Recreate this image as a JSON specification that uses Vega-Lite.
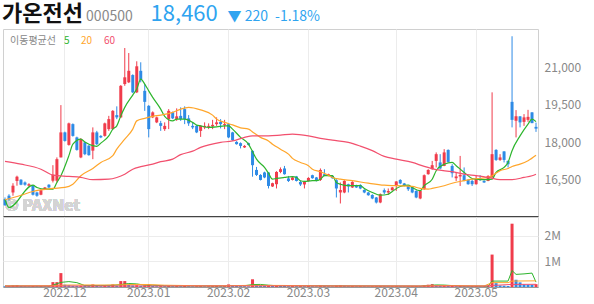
{
"$schema": "https://vega.github.io/schema/vega-lite/v6.json",
"padding": {"left": 2, "top": 2, "right": 0, "bottom": 0},
"background": "white",
"config": {"font": "Noto Sans CJK KR", "view": {"stroke": "#d0d0d0"}},
"title": {"text": "가온전선", "subtitle": "\u200b\u2003\u2003\u2003\u2003\u2003\u2003000500", "anchor": "start", "fontSize": 22, "fontWeight": "bold", "color": "#111111", "subtitleFontSize": 14, "subtitleColor": "#8a8a8a", "subtitlePadding": -16, "offset": -23},
"spacing": -3,
"resolve": {"scale": {"color": "independent"}},
"datasets": {
"candles": [
{"d":"2022-11-10","o":15640,"h":15710,"l":15380,"c":15400,"v":30000},
{"d":"2022-11-11","o":15780,"h":15840,"l":15580,"c":15640,"v":35000},
{"d":"2022-11-14","o":15910,"h":16280,"l":15780,"c":16180,"v":60000},
{"d":"2022-11-15","o":16370,"h":16580,"l":16180,"c":16540,"v":70000},
{"d":"2022-11-16","o":16420,"h":16440,"l":16200,"c":16220,"v":40000},
{"d":"2022-11-17","o":16310,"h":16350,"l":16180,"c":16220,"v":30000},
{"d":"2022-11-18","o":16180,"h":16280,"l":16150,"c":16240,"v":25000},
{"d":"2022-11-21","o":16180,"h":16200,"l":15790,"c":15820,"v":40000},
{"d":"2022-11-22","o":15910,"h":15940,"l":15740,"c":15780,"v":30000},
{"d":"2022-11-23","o":15820,"h":16030,"l":15800,"c":16000,"v":35000},
{"d":"2022-11-24","o":16040,"h":16130,"l":16020,"c":16110,"v":25000},
{"d":"2022-11-25","o":16220,"h":16240,"l":16090,"c":16110,"v":30000},
{"d":"2022-11-28","o":16380,"h":17000,"l":16310,"c":16620,"v":190000},
{"d":"2022-11-29","o":16380,"h":17310,"l":16310,"c":17240,"v":190000},
{"d":"2022-11-30","o":17310,"h":19400,"l":17310,"c":18310,"v":540000},
{"d":"2022-12-01","o":18310,"h":18340,"l":17940,"c":17970,"v":90000},
{"d":"2022-12-02","o":17810,"h":18700,"l":17780,"c":18670,"v":70000},
{"d":"2022-12-05","o":18640,"h":18670,"l":18140,"c":18170,"v":50000},
{"d":"2022-12-06","o":18110,"h":18140,"l":17580,"c":17610,"v":45000},
{"d":"2022-12-07","o":17310,"h":18080,"l":17280,"c":18040,"v":50000},
{"d":"2022-12-08","o":17910,"h":17940,"l":17400,"c":17440,"v":40000},
{"d":"2022-12-09","o":17780,"h":17800,"l":17380,"c":17400,"v":35000},
{"d":"2022-12-12","o":17580,"h":18510,"l":17240,"c":18310,"v":100000},
{"d":"2022-12-13","o":18310,"h":18370,"l":17800,"c":17840,"v":50000},
{"d":"2022-12-14","o":18170,"h":18200,"l":18080,"c":18110,"v":30000},
{"d":"2022-12-15","o":18170,"h":18700,"l":18140,"c":18670,"v":60000},
{"d":"2022-12-16","o":18440,"h":18970,"l":18370,"c":18840,"v":45000},
{"d":"2022-12-19","o":18440,"h":19200,"l":18420,"c":19170,"v":100000},
{"d":"2022-12-20","o":19000,"h":19350,"l":18840,"c":18910,"v":50000},
{"d":"2022-12-21","o":18910,"h":20200,"l":18880,"c":20170,"v":230000},
{"d":"2022-12-22","o":20240,"h":21680,"l":20170,"c":20510,"v":230000},
{"d":"2022-12-23","o":20310,"h":21480,"l":20280,"c":20770,"v":90000},
{"d":"2022-12-26","o":20600,"h":20630,"l":19880,"c":19910,"v":60000},
{"d":"2022-12-27","o":19910,"h":21150,"l":19880,"c":20950,"v":70000},
{"d":"2022-12-28","o":20770,"h":21110,"l":20310,"c":20410,"v":50000},
{"d":"2022-12-29","o":19970,"h":20240,"l":19170,"c":19530,"v":60000},
{"d":"2023-01-02","o":19370,"h":19400,"l":18110,"c":18440,"v":110000},
{"d":"2023-01-03","o":18910,"h":19150,"l":18880,"c":19110,"v":40000},
{"d":"2023-01-04","o":18710,"h":18940,"l":18680,"c":18910,"v":30000},
{"d":"2023-01-05","o":18680,"h":18770,"l":18370,"c":18570,"v":35000},
{"d":"2023-01-06","o":18440,"h":18710,"l":18370,"c":18570,"v":30000},
{"d":"2023-01-09","o":18840,"h":19240,"l":18440,"c":19170,"v":40000},
{"d":"2023-01-10","o":19110,"h":19140,"l":18840,"c":18870,"v":30000},
{"d":"2023-01-11","o":18840,"h":19270,"l":18770,"c":18950,"v":35000},
{"d":"2023-01-12","o":18970,"h":19310,"l":18770,"c":18840,"v":30000},
{"d":"2023-01-13","o":19240,"h":19350,"l":18640,"c":18840,"v":40000},
{"d":"2023-01-16","o":18870,"h":19000,"l":18570,"c":18670,"v":30000},
{"d":"2023-01-17","o":18570,"h":18710,"l":18440,"c":18510,"v":25000},
{"d":"2023-01-18","o":18570,"h":18600,"l":18280,"c":18310,"v":30000},
{"d":"2023-01-19","o":18370,"h":18600,"l":18130,"c":18570,"v":35000},
{"d":"2023-01-20","o":18510,"h":18710,"l":18440,"c":18570,"v":25000},
{"d":"2023-01-25","o":18530,"h":18670,"l":18440,"c":18570,"v":30000},
{"d":"2023-01-26","o":18550,"h":18810,"l":18440,"c":18610,"v":35000},
{"d":"2023-01-27","o":18640,"h":18910,"l":18570,"c":18710,"v":40000},
{"d":"2023-01-30","o":18730,"h":18840,"l":18470,"c":18640,"v":30000},
{"d":"2023-01-31","o":18600,"h":18810,"l":18440,"c":18640,"v":35000},
{"d":"2023-02-01","o":18640,"h":18670,"l":18080,"c":18110,"v":100000},
{"d":"2023-02-02","o":18310,"h":18330,"l":17970,"c":18000,"v":60000},
{"d":"2023-02-03","o":17930,"h":17960,"l":17820,"c":17840,"v":40000},
{"d":"2023-02-06","o":17880,"h":17910,"l":17670,"c":17770,"v":35000},
{"d":"2023-02-07","o":17710,"h":17800,"l":17690,"c":17770,"v":30000},
{"d":"2023-02-08","o":17880,"h":17900,"l":17790,"c":17810,"v":25000},
{"d":"2023-02-09","o":17570,"h":17600,"l":16540,"c":17000,"v":300000},
{"d":"2023-02-10","o":16810,"h":16930,"l":16570,"c":16610,"v":80000},
{"d":"2023-02-13","o":16610,"h":16640,"l":16390,"c":16410,"v":60000},
{"d":"2023-02-14","o":16710,"h":16740,"l":16480,"c":16510,"v":50000},
{"d":"2023-02-15","o":16710,"h":16720,"l":16070,"c":16170,"v":70000},
{"d":"2023-02-16","o":16150,"h":16300,"l":16130,"c":16280,"v":40000},
{"d":"2023-02-17","o":16240,"h":16760,"l":16070,"c":16730,"v":60000},
{"d":"2023-02-20","o":16730,"h":16910,"l":16680,"c":16840,"v":50000},
{"d":"2023-02-21","o":16870,"h":16970,"l":16620,"c":16640,"v":40000},
{"d":"2023-02-22","o":16470,"h":16570,"l":16330,"c":16370,"v":30000},
{"d":"2023-02-23","o":16410,"h":16530,"l":16390,"c":16510,"v":35000},
{"d":"2023-02-24","o":16550,"h":16570,"l":16350,"c":16370,"v":30000},
{"d":"2023-02-27","o":16330,"h":16370,"l":16170,"c":16230,"v":35000},
{"d":"2023-02-28","o":16230,"h":16370,"l":16070,"c":16330,"v":30000},
{"d":"2023-03-02","o":16370,"h":16520,"l":16350,"c":16490,"v":40000},
{"d":"2023-03-03","o":16600,"h":16620,"l":16460,"c":16480,"v":30000},
{"d":"2023-03-06","o":16510,"h":16530,"l":16350,"c":16370,"v":25000},
{"d":"2023-03-07","o":16410,"h":16870,"l":16370,"c":16810,"v":50000},
{"d":"2023-03-08","o":16640,"h":16840,"l":16560,"c":16570,"v":40000},
{"d":"2023-03-09","o":16570,"h":16660,"l":16560,"c":16640,"v":30000},
{"d":"2023-03-10","o":16570,"h":16600,"l":16460,"c":16480,"v":25000},
{"d":"2023-03-13","o":16400,"h":16440,"l":15710,"c":16070,"v":50000},
{"d":"2023-03-14","o":15910,"h":16310,"l":15470,"c":16010,"v":60000},
{"d":"2023-03-15","o":15910,"h":16400,"l":15880,"c":16370,"v":45000},
{"d":"2023-03-16","o":16240,"h":16260,"l":15910,"c":16150,"v":35000},
{"d":"2023-03-17","o":16110,"h":16360,"l":16090,"c":16330,"v":40000},
{"d":"2023-03-20","o":16200,"h":16220,"l":16090,"c":16110,"v":30000},
{"d":"2023-03-21","o":16210,"h":16240,"l":16040,"c":16070,"v":35000},
{"d":"2023-03-22","o":16010,"h":16040,"l":15880,"c":15910,"v":30000},
{"d":"2023-03-23","o":15910,"h":15930,"l":15780,"c":15800,"v":25000},
{"d":"2023-03-24","o":15810,"h":15840,"l":15640,"c":15670,"v":30000},
{"d":"2023-03-27","o":15710,"h":15730,"l":15470,"c":15510,"v":35000},
{"d":"2023-03-28","o":15510,"h":15870,"l":15480,"c":15840,"v":40000},
{"d":"2023-03-29","o":16000,"h":16070,"l":15840,"c":15910,"v":30000},
{"d":"2023-03-30","o":15910,"h":16070,"l":15810,"c":15970,"v":25000},
{"d":"2023-03-31","o":16000,"h":16130,"l":15980,"c":16110,"v":30000},
{"d":"2023-04-03","o":16170,"h":16360,"l":15970,"c":16350,"v":40000},
{"d":"2023-04-04","o":16410,"h":16440,"l":16240,"c":16270,"v":30000},
{"d":"2023-04-05","o":16270,"h":16290,"l":16150,"c":16170,"v":25000},
{"d":"2023-04-06","o":16170,"h":16190,"l":15970,"c":16040,"v":30000},
{"d":"2023-04-07","o":16130,"h":16160,"l":15880,"c":15910,"v":35000},
{"d":"2023-04-10","o":15970,"h":16000,"l":15680,"c":15710,"v":40000},
{"d":"2023-04-11","o":15670,"h":16000,"l":15640,"c":15970,"v":30000},
{"d":"2023-04-12","o":16040,"h":16630,"l":16020,"c":16600,"v":60000},
{"d":"2023-04-13","o":16640,"h":16840,"l":16620,"c":16810,"v":90000},
{"d":"2023-04-14","o":16840,"h":17170,"l":16820,"c":17000,"v":110000},
{"d":"2023-04-17","o":17170,"h":17510,"l":16910,"c":17440,"v":70000},
{"d":"2023-04-18","o":17110,"h":17440,"l":16840,"c":16870,"v":50000},
{"d":"2023-04-19","o":16970,"h":17640,"l":16960,"c":17510,"v":60000},
{"d":"2023-04-20","o":17610,"h":17630,"l":17110,"c":17130,"v":45000},
{"d":"2023-04-21","o":16970,"h":17040,"l":16510,"c":16680,"v":50000},
{"d":"2023-04-24","o":16480,"h":16730,"l":16370,"c":16550,"v":30000},
{"d":"2023-04-25","o":16550,"h":17370,"l":16170,"c":16610,"v":35000},
{"d":"2023-04-26","o":16600,"h":16910,"l":16360,"c":16370,"v":30000},
{"d":"2023-04-27","o":16410,"h":16440,"l":16220,"c":16240,"v":25000},
{"d":"2023-04-28","o":16370,"h":16440,"l":16170,"c":16240,"v":30000},
{"d":"2023-05-02","o":16240,"h":16600,"l":16220,"c":16440,"v":35000},
{"d":"2023-05-03","o":16470,"h":16600,"l":16370,"c":16440,"v":25000},
{"d":"2023-05-04","o":16370,"h":16400,"l":16290,"c":16310,"v":30000},
{"d":"2023-05-08","o":16370,"h":16600,"l":16360,"c":16570,"v":40000},
{"d":"2023-05-09","o":16510,"h":19910,"l":16510,"c":17440,"v":1260000},
{"d":"2023-05-10","o":17610,"h":17640,"l":17170,"c":17210,"v":150000},
{"d":"2023-05-11","o":17210,"h":17440,"l":17170,"c":17310,"v":60000},
{"d":"2023-05-12","o":17550,"h":17560,"l":17110,"c":17210,"v":50000},
{"d":"2023-05-15","o":17170,"h":17190,"l":16910,"c":17040,"v":40000},
{"d":"2023-05-16","o":19530,"h":22150,"l":18510,"c":18810,"v":2460000},
{"d":"2023-05-17","o":18770,"h":19200,"l":18110,"c":18950,"v":280000},
{"d":"2023-05-18","o":18950,"h":18960,"l":18510,"c":18710,"v":180000},
{"d":"2023-05-19","o":18730,"h":19040,"l":18570,"c":18910,"v":100000},
{"d":"2023-05-22","o":18810,"h":19210,"l":18730,"c":18930,"v":90000},
{"d":"2023-05-23","o":19110,"h":19120,"l":18680,"c":18680,"v":85000},
{"d":"2023-05-24","o":18530,"h":18700,"l":18330,"c":18460,"v":110000}
],
"ma": [
{"d":"2022-11-10","ma":"5","p":15640},{"d":"2022-11-11","ma":"5","p":15310},{"d":"2022-11-21","ma":"5","p":16200},{"d":"2022-11-22","ma":"5","p":16110},{"d":"2022-11-24","ma":"5","p":16040},{"d":"2022-11-28","ma":"5","p":16040},{"d":"2022-11-29","ma":"5","p":16310},{"d":"2022-11-30","ma":"5","p":16580},{"d":"2022-12-02","ma":"5","p":17380},{"d":"2022-12-05","ma":"5","p":17840},{"d":"2022-12-07","ma":"5","p":18040},{"d":"2022-12-08","ma":"5","p":17930},{"d":"2022-12-12","ma":"5","p":17780},{"d":"2022-12-13","ma":"5","p":17750},{"d":"2022-12-14","ma":"5","p":17880},{"d":"2022-12-16","ma":"5","p":18170},{"d":"2022-12-19","ma":"5","p":18440},{"d":"2022-12-20","ma":"5","p":18570},{"d":"2022-12-21","ma":"5","p":18970},{"d":"2022-12-22","ma":"5","p":19310},{"d":"2022-12-26","ma":"5","p":19800},{"d":"2022-12-27","ma":"5","p":20040},{"d":"2022-12-28","ma":"5","p":20440},{"d":"2022-12-29","ma":"5","p":20240},{"d":"2023-01-02","ma":"5","p":19970},{"d":"2023-01-03","ma":"5","p":19710},{"d":"2023-01-05","ma":"5","p":19240},{"d":"2023-01-06","ma":"5","p":18950},{"d":"2023-01-10","ma":"5","p":18770},{"d":"2023-01-11","ma":"5","p":18840},{"d":"2023-01-13","ma":"5","p":18840},{"d":"2023-01-17","ma":"5","p":18710},{"d":"2023-01-18","ma":"5","p":18600},{"d":"2023-01-19","ma":"5","p":18570},{"d":"2023-01-25","ma":"5","p":18510},{"d":"2023-01-27","ma":"5","p":18530},{"d":"2023-01-31","ma":"5","p":18570},{"d":"2023-02-01","ma":"5","p":18570},{"d":"2023-02-02","ma":"5","p":18440},{"d":"2023-02-06","ma":"5","p":18110},{"d":"2023-02-08","ma":"5","p":17840},{"d":"2023-02-09","ma":"5","p":17540},{"d":"2023-02-10","ma":"5","p":17240},{"d":"2023-02-14","ma":"5","p":16910},{"d":"2023-02-15","ma":"5","p":16680},{"d":"2023-02-16","ma":"5","p":16440},{"d":"2023-02-17","ma":"5","p":16470},{"d":"2023-02-21","ma":"5","p":16510},{"d":"2023-02-23","ma":"5","p":16540},{"d":"2023-02-24","ma":"5","p":16510},{"d":"2023-02-27","ma":"5","p":16380},{"d":"2023-02-28","ma":"5","p":16350},{"d":"2023-03-03","ma":"5","p":16380},{"d":"2023-03-06","ma":"5","p":16380},{"d":"2023-03-07","ma":"5","p":16440},{"d":"2023-03-08","ma":"5","p":16580},{"d":"2023-03-10","ma":"5","p":16580},{"d":"2023-03-13","ma":"5","p":16310},{"d":"2023-03-14","ma":"5","p":16240},{"d":"2023-03-16","ma":"5","p":16180},{"d":"2023-03-21","ma":"5","p":16180},{"d":"2023-03-22","ma":"5","p":16070},{"d":"2023-03-24","ma":"5","p":15910},{"d":"2023-03-28","ma":"5","p":15800},{"d":"2023-03-30","ma":"5","p":15840},{"d":"2023-03-31","ma":"5","p":15950},{"d":"2023-04-04","ma":"5","p":16150},{"d":"2023-04-06","ma":"5","p":16200},{"d":"2023-04-07","ma":"5","p":16110},{"d":"2023-04-11","ma":"5","p":15980},{"d":"2023-04-12","ma":"5","p":16180},{"d":"2023-04-14","ma":"5","p":16440},{"d":"2023-04-17","ma":"5","p":16780},{"d":"2023-04-19","ma":"5","p":17040},{"d":"2023-04-21","ma":"5","p":17110},{"d":"2023-04-24","ma":"5","p":16980},{"d":"2023-04-26","ma":"5","p":16710},{"d":"2023-04-28","ma":"5","p":16470},{"d":"2023-05-02","ma":"5","p":16440},{"d":"2023-05-04","ma":"5","p":16420},{"d":"2023-05-09","ma":"5","p":16440},{"d":"2023-05-10","ma":"5","p":16710},{"d":"2023-05-12","ma":"5","p":16910},{"d":"2023-05-15","ma":"5","p":17110},{"d":"2023-05-16","ma":"5","p":17580},{"d":"2023-05-18","ma":"5","p":18170},{"d":"2023-05-22","ma":"5","p":18640},{"d":"2023-05-23","ma":"5","p":18840},{"d":"2023-05-24","ma":"5","p":18740},
{"d":"2022-11-10","ma":"20","p":15620},{"d":"2022-11-16","ma":"20","p":15800},{"d":"2022-11-21","ma":"20","p":15950},{"d":"2022-11-28","ma":"20","p":16070},{"d":"2022-12-01","ma":"20","p":16110},{"d":"2022-12-05","ma":"20","p":16240},{"d":"2022-12-07","ma":"20","p":16580},{"d":"2022-12-12","ma":"20","p":16870},{"d":"2022-12-14","ma":"20","p":17110},{"d":"2022-12-19","ma":"20","p":17380},{"d":"2022-12-20","ma":"20","p":17640},{"d":"2022-12-22","ma":"20","p":18040},{"d":"2022-12-26","ma":"20","p":18440},{"d":"2022-12-27","ma":"20","p":18770},{"d":"2022-12-29","ma":"20","p":18870},{"d":"2023-01-03","ma":"20","p":18950},{"d":"2023-01-05","ma":"20","p":19000},{"d":"2023-01-10","ma":"20","p":19110},{"d":"2023-01-12","ma":"20","p":19240},{"d":"2023-01-16","ma":"20","p":19310},{"d":"2023-01-19","ma":"20","p":19210},{"d":"2023-01-26","ma":"20","p":19000},{"d":"2023-01-27","ma":"20","p":18840},{"d":"2023-01-31","ma":"20","p":18710},{"d":"2023-02-02","ma":"20","p":18610},{"d":"2023-02-06","ma":"20","p":18490},{"d":"2023-02-08","ma":"20","p":18440},{"d":"2023-02-09","ma":"20","p":18330},{"d":"2023-02-13","ma":"20","p":18110},{"d":"2023-02-15","ma":"20","p":17970},{"d":"2023-02-16","ma":"20","p":17840},{"d":"2023-02-20","ma":"20","p":17640},{"d":"2023-02-22","ma":"20","p":17440},{"d":"2023-02-23","ma":"20","p":17270},{"d":"2023-02-27","ma":"20","p":17110},{"d":"2023-03-02","ma":"20","p":16980},{"d":"2023-03-03","ma":"20","p":16840},{"d":"2023-03-07","ma":"20","p":16740},{"d":"2023-03-09","ma":"20","p":16600},{"d":"2023-03-10","ma":"20","p":16510},{"d":"2023-03-14","ma":"20","p":16440},{"d":"2023-03-17","ma":"20","p":16380},{"d":"2023-03-23","ma":"20","p":16280},{"d":"2023-03-29","ma":"20","p":16200},{"d":"2023-04-03","ma":"20","p":16180},{"d":"2023-04-07","ma":"20","p":16150},{"d":"2023-04-11","ma":"20","p":16070},{"d":"2023-04-13","ma":"20","p":16040},{"d":"2023-04-14","ma":"20","p":16070},{"d":"2023-04-19","ma":"20","p":16180},{"d":"2023-04-21","ma":"20","p":16280},{"d":"2023-04-26","ma":"20","p":16380},{"d":"2023-04-28","ma":"20","p":16440},{"d":"2023-05-08","ma":"20","p":16510},{"d":"2023-05-09","ma":"20","p":16580},{"d":"2023-05-11","ma":"20","p":16780},{"d":"2023-05-15","ma":"20","p":16870},{"d":"2023-05-16","ma":"20","p":16950},{"d":"2023-05-18","ma":"20","p":17040},{"d":"2023-05-22","ma":"20","p":17180},{"d":"2023-05-24","ma":"20","p":17400},
{"d":"2022-11-10","ma":"60","p":17150},{"d":"2022-11-16","ma":"60","p":17040},{"d":"2022-11-23","ma":"60","p":16840},{"d":"2022-11-28","ma":"60","p":16600},{"d":"2022-12-02","ma":"60","p":16550},{"d":"2022-12-07","ma":"60","p":16510},{"d":"2022-12-12","ma":"60","p":16420},{"d":"2022-12-16","ma":"60","p":16440},{"d":"2022-12-20","ma":"60","p":16510},{"d":"2022-12-22","ma":"60","p":16640},{"d":"2022-12-26","ma":"60","p":16840},{"d":"2022-12-28","ma":"60","p":16940},{"d":"2023-01-03","ma":"60","p":17040},{"d":"2023-01-05","ma":"60","p":17140},{"d":"2023-01-10","ma":"60","p":17240},{"d":"2023-01-12","ma":"60","p":17420},{"d":"2023-01-17","ma":"60","p":17560},{"d":"2023-01-19","ma":"60","p":17710},{"d":"2023-01-30","ma":"60","p":17910},{"d":"2023-02-02","ma":"60","p":17970},{"d":"2023-02-07","ma":"60","p":18110},{"d":"2023-02-09","ma":"60","p":18170},{"d":"2023-02-15","ma":"60","p":18170},{"d":"2023-02-20","ma":"60","p":18200},{"d":"2023-02-23","ma":"60","p":18240},{"d":"2023-03-02","ma":"60","p":18170},{"d":"2023-03-07","ma":"60","p":18070},{"d":"2023-03-10","ma":"60","p":18000},{"d":"2023-03-16","ma":"60","p":17910},{"d":"2023-03-21","ma":"60","p":17760},{"d":"2023-03-24","ma":"60","p":17580},{"d":"2023-03-29","ma":"60","p":17350},{"d":"2023-04-03","ma":"60","p":17240},{"d":"2023-04-07","ma":"60","p":17110},{"d":"2023-04-12","ma":"60","p":16950},{"d":"2023-04-17","ma":"60","p":16820},{"d":"2023-04-21","ma":"60","p":16740},{"d":"2023-04-26","ma":"60","p":16640},{"d":"2023-05-02","ma":"60","p":16580},{"d":"2023-05-08","ma":"60","p":16510},{"d":"2023-05-11","ma":"60","p":16420},{"d":"2023-05-16","ma":"60","p":16420},{"d":"2023-05-19","ma":"60","p":16510},{"d":"2023-05-23","ma":"60","p":16580},{"d":"2023-05-24","ma":"60","p":16640}
],
"vma": [
{"d":"2022-11-10","ma":"5","v":40000},{"d":"2022-11-25","ma":"5","v":35000},{"d":"2022-11-28","ma":"5","v":70000},{"d":"2022-11-30","ma":"5","v":180000},{"d":"2022-12-02","ma":"5","v":210000},{"d":"2022-12-06","ma":"5","v":170000},{"d":"2022-12-08","ma":"5","v":55000},{"d":"2022-12-12","ma":"5","v":55000},{"d":"2022-12-14","ma":"5","v":60000},{"d":"2022-12-19","ma":"5","v":65000},{"d":"2022-12-21","ma":"5","v":95000},{"d":"2022-12-23","ma":"5","v":135000},{"d":"2022-12-27","ma":"5","v":120000},{"d":"2022-12-29","ma":"5","v":70000},{"d":"2023-01-03","ma":"5","v":70000},{"d":"2023-01-06","ma":"5","v":45000},{"d":"2023-01-31","ma":"5","v":40000},{"d":"2023-02-01","ma":"5","v":55000},{"d":"2023-02-07","ma":"5","v":50000},{"d":"2023-02-09","ma":"5","v":95000},{"d":"2023-02-13","ma":"5","v":100000},{"d":"2023-02-15","ma":"5","v":70000},{"d":"2023-02-17","ma":"5","v":50000},{"d":"2023-04-11","ma":"5","v":35000},{"d":"2023-04-13","ma":"5","v":55000},{"d":"2023-04-17","ma":"5","v":80000},{"d":"2023-04-19","ma":"5","v":75000},{"d":"2023-04-21","ma":"5","v":55000},{"d":"2023-04-26","ma":"5","v":35000},{"d":"2023-05-08","ma":"5","v":35000},{"d":"2023-05-09","ma":"5","v":230000},{"d":"2023-05-15","ma":"5","v":230000},{"d":"2023-05-16","ma":"5","v":640000},{"d":"2023-05-17","ma":"5","v":490000},{"d":"2023-05-19","ma":"5","v":510000},{"d":"2023-05-23","ma":"5","v":540000},{"d":"2023-05-24","ma":"5","v":190000},
{"d":"2022-11-10","ma":"20","v":40000},{"d":"2022-11-28","ma":"20","v":50000},{"d":"2022-12-01","ma":"20","v":75000},{"d":"2022-12-08","ma":"20","v":80000},{"d":"2022-12-15","ma":"20","v":75000},{"d":"2022-12-21","ma":"20","v":85000},{"d":"2022-12-27","ma":"20","v":100000},{"d":"2023-01-02","ma":"20","v":95000},{"d":"2023-01-06","ma":"20","v":70000},{"d":"2023-01-20","ma":"20","v":45000},{"d":"2023-02-01","ma":"20","v":50000},{"d":"2023-02-09","ma":"20","v":65000},{"d":"2023-02-21","ma":"20","v":60000},{"d":"2023-03-08","ma":"20","v":40000},{"d":"2023-04-11","ma":"20","v":35000},{"d":"2023-04-14","ma":"20","v":50000},{"d":"2023-04-21","ma":"20","v":55000},{"d":"2023-05-04","ma":"20","v":40000},{"d":"2023-05-09","ma":"20","v":170000},{"d":"2023-05-15","ma":"20","v":170000},{"d":"2023-05-16","ma":"20","v":230000},{"d":"2023-05-24","ma":"20","v":240000},
{"d":"2022-11-10","ma":"60","v":35000},{"d":"2023-02-07","ma":"60","v":40000},{"d":"2023-05-04","ma":"60","v":35000},{"d":"2023-05-09","ma":"60","v":60000},{"d":"2023-05-16","ma":"60","v":100000},{"d":"2023-05-24","ma":"60","v":105000}
]
},
"vconcat": [
{
"width": 535, "height": 187,
"title": {"text": "18,460", "subtitle": "\u200b\u2003\u2003\u2003\u2003\u2003\u2002▼ 220\u2002-1.18%", "anchor": "start", "dx": 148, "fontSize": 22, "fontWeight": "normal", "color": "#2fa4f0", "subtitleColor": "#2fa4f0", "subtitleFontSize": 14, "subtitlePadding": -16, "offset": 3},
"layer": [
{"data": {"name": "candles"},
 "mark": {"type": "text", "align": "left", "baseline": "middle", "fontSize": 16, "fontWeight": "bold", "color": "#d4d4d4", "text": "© PAXNet"},
 "encoding": {
  "x": {"datum": "2022-11-10", "type": "ordinal", "scale": {"paddingInner": 0, "paddingOuter": 0},
        "axis": {"values": ["2022-12-01","2023-01-02","2023-02-01","2023-03-02","2023-04-03","2023-05-02"], "labels": false, "ticks": false, "tickSize": 0, "title": null, "grid": true, "gridColor": "#ececec", "domainColor": "#444444", "bandPosition": 0.5}},
  "y": {"datum": 15360, "type": "quantitative", "scale": {"domain": [14970, 22440], "nice": false, "zero": false},
        "axis": {"orient": "right", "values": [16500, 18000, 19500, 21000], "format": ",.0f", "title": null, "domain": false, "ticks": false, "tickSize": 0, "labelColor": "#888888", "labelFontSize": 12, "labelPadding": 6, "labelOffset": 2, "gridColor": "#ececec"}}
 }},
{"data": {"name": "candles"},
 "mark": {"type": "rule", "strokeWidth": 1},
 "encoding": {
  "x": {"field": "d", "type": "ordinal"},
  "y": {"field": "l", "type": "quantitative"},
  "y2": {"field": "h"},
  "color": {"condition": {"test": "datum.c >= datum.o", "value": "#f03c4b"}, "value": "#2e8be6"}
 }},
{"data": {"name": "candles"},
 "mark": {"type": "bar", "size": 3},
 "encoding": {
  "x": {"field": "d", "type": "ordinal"},
  "y": {"field": "o", "type": "quantitative"},
  "y2": {"field": "c"},
  "color": {"condition": {"test": "datum.c >= datum.o", "value": "#f03c4b"}, "value": "#2e8be6"}
 }},
{"data": {"name": "ma"},
 "mark": {"type": "line", "strokeWidth": 1.2, "interpolate": "monotone"},
 "encoding": {
  "x": {"field": "d", "type": "ordinal"},
  "y": {"field": "p", "type": "quantitative"},
  "color": {"field": "ma", "type": "nominal", "sort": ["5","20","60"], "scale": {"domain": ["5","20","60"], "range": ["#2db52d","#ffa62b","#f2506e"]},
   "legend": {"title": "이동평균선", "orient": "top-left", "offset": 7, "direction": "horizontal", "titleOrient": "left", "titleFontSize": 10, "titleFontWeight": "normal", "titleColor": "#888888", "titlePadding": -3, "labelFontSize": 10, "symbolType": "circle", "symbolSize": 1, "symbolOpacity": 0, "symbolStrokeWidth": 0, "labelOffset": 1, "gridAlign": "none", "columnPadding": 0, "padding": 0,
    "encode": {"symbols": {"update": {"size": {"value": 0}, "opacity": {"value": 0}}}, "labels": {"update": {"fill": {"signal": "datum.value == '5' ? '#2db52d' : datum.value == '20' ? '#ffa62b' : '#f2506e'"}}}}}}
 }}
]
},
{
"width": 535, "height": 70,
"layer": [
{"data": {"name": "candles"},
 "transform": [{"window": [{"op": "lag", "field": "v", "as": "pv"}], "sort": [{"field": "d"}]}],
 "mark": {"type": "bar", "size": 3},
 "encoding": {
  "x": {"field": "d", "type": "ordinal", "scale": {"paddingInner": 0, "paddingOuter": 0},
        "axis": {"values": ["2022-12-01","2023-01-02","2023-02-01","2023-03-02","2023-04-03","2023-05-02"], "labelExpr": "replace(slice(datum.label,0,7),'-','.')", "labelAngle": 0, "labelColor": "#888888", "labelFontSize": 12, "labelPadding": 0, "ticks": false, "tickSize": 0, "title": null, "grid": true, "gridColor": "#ececec", "domainColor": "#999999", "bandPosition": 0.5}},
  "y": {"field": "v", "type": "quantitative", "scale": {"domain": [0, 2720000], "nice": false},
        "axis": {"orient": "right", "values": [1000000, 2000000], "labelExpr": "datum.value / 1000000 + 'M'", "title": null, "domain": false, "ticks": false, "tickSize": 0, "labelColor": "#888888", "labelFontSize": 12, "labelPadding": 6, "gridColor": "#ececec"}},
  "color": {"condition": {"test": "datum.pv != null && datum.v >= datum.pv", "value": "#f03c4b"}, "value": "#2e8be6"}
 }},
{"data": {"name": "vma"},
 "mark": {"type": "line", "strokeWidth": 1},
 "encoding": {
  "x": {"field": "d", "type": "ordinal"},
  "y": {"field": "v", "type": "quantitative"},
  "color": {"field": "ma", "type": "nominal", "scale": {"domain": ["5","20","60"], "range": ["#2db52d","#ffa62b","#f2506e"]}, "legend": null}
 }}
]
}
]
}
